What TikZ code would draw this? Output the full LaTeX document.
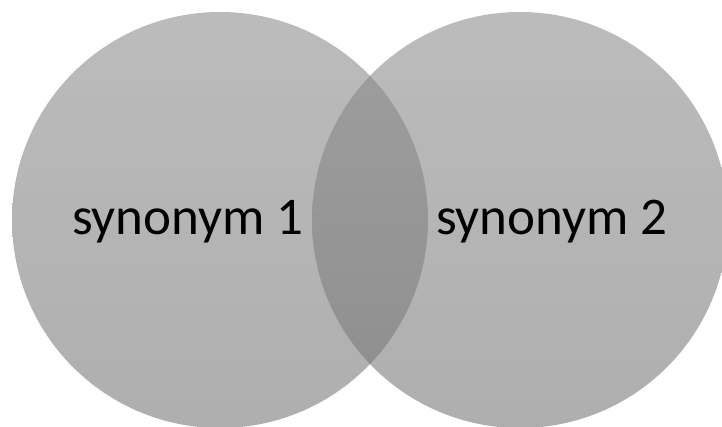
\documentclass[tikz,border=0pt]{standalone}
\usepackage{fontspec}
\setmainfont{Carlito}
\begin{document}
\begin{tikzpicture}[x=1pt,y=1pt,
  setcircle/.style={circle, minimum size=416pt, inner sep=0pt, draw=none,
    top color={rgb,255:red,140;green,140;blue,140},
    bottom color={rgb,255:red,118;green,118;blue,118},
    fill opacity=0.59},
  setlabel/.style={font=\fontsize{53}{63}\selectfont, text=black, anchor=base, inner sep=0pt}]
\useasboundingbox (0,0) rectangle (722,426);
\begin{scope}
\clip (0,0) rectangle (722,426);
\node[setcircle] (c1) at (220,206) {};
\node[setcircle] (c2) at (520,206) {};
\end{scope}
\node[setlabel] (l1) at (188,191) {synonym 1};
\node[setlabel] (l2) at (552,191) {synonym 2};
\end{tikzpicture}
\end{document}
